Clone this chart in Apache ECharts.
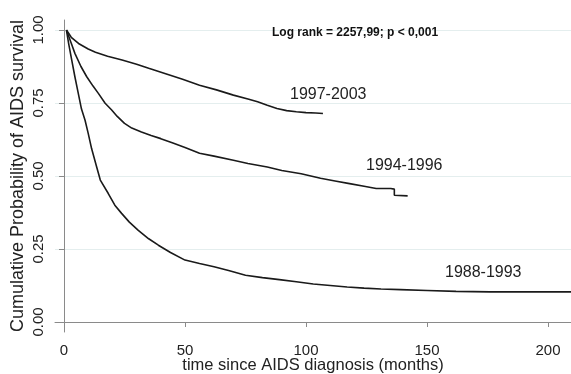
<!DOCTYPE html>
<html>
<head>
<meta charset="utf-8">
<script src="https://cdn.jsdelivr.net/npm/echarts@6/dist/echarts.min.js"></script>
<style>html,body{margin:0;padding:0;background:#fff}#c{width:571px;height:374px}</style>
</head>
<body>
<div id="c"></div>
<script>
// ---- data ----
const xTicks = [0, 50, 100, 150, 200];
const yTicks = [0, 0.25, 0.5, 0.75, 1];

const t9703 = [1, 3, 6, 10, 13, 18, 24, 30, 35, 42, 49, 56, 63, 70, 76, 80, 84, 88, 92, 96, 100, 104, 107];
const s9703 = [1.0, 0.975, 0.954, 0.935, 0.924, 0.910, 0.897, 0.883, 0.869, 0.850, 0.831, 0.811, 0.795, 0.777, 0.764, 0.754, 0.742, 0.731, 0.724, 0.720, 0.717, 0.716, 0.714];

const t9496 = [1, 3, 4.5, 7, 9.4, 12, 14.2, 17, 19.7, 22, 25, 28, 32, 36, 40, 45, 50, 56, 62, 70, 76, 84, 90, 98, 106, 112, 118, 124, 129, 131, 135, 136.5, 136.5, 142];
const s9496 = [1.0, 0.955, 0.92, 0.875, 0.840, 0.808, 0.783, 0.749, 0.726, 0.704, 0.680, 0.664, 0.651, 0.639, 0.628, 0.613, 0.598, 0.578, 0.568, 0.554, 0.543, 0.531, 0.519, 0.508, 0.492, 0.483, 0.474, 0.465, 0.457, 0.457, 0.457, 0.455, 0.434, 0.432];

const t8893 = [1, 2, 3.2, 4.5, 5.9, 7.2, 8.7, 10, 11.4, 13.5, 15, 18.3, 21, 23.8, 27, 30.7, 35, 39, 44, 50, 56, 62, 68, 75, 82, 89, 96, 103, 110, 117, 124, 131, 139, 150, 162, 176, 190, 210];
const s8893 = [1.0, 0.95, 0.897, 0.84, 0.783, 0.73, 0.691, 0.646, 0.594, 0.531, 0.486, 0.440, 0.400, 0.372, 0.342, 0.314, 0.285, 0.263, 0.238, 0.212, 0.200, 0.189, 0.176, 0.160, 0.152, 0.145, 0.138, 0.130, 0.125, 0.120, 0.116, 0.113, 0.111, 0.108, 0.105, 0.103, 0.103, 0.103];

const seriesNames = ['1997-2003', '1994-1996', '1988-1993'];
const statText = 'Log rank = 2257,99; p < 0,001';
const xTitle = 'time since AIDS diagnosis (months)';
const yTitle = 'Cumulative Probability of AIDS survival';

// ---- chart ----
const zip = (t, s) => t.map((v, i) => [v, s[i]]);
const lineStyle = { color: '#1a1a1a', width: 1.6 };
const FONT = '"Liberation Sans", Arial, sans-serif';

const chart = echarts.init(document.getElementById('c'), null, { renderer: 'canvas' });
chart.setOption({
  animation: false,
  backgroundColor: '#ffffff',
  grid: { left: 55, right: 0, top: 20, bottom: 42, containLabel: false, outerBoundsMode: 'none' },
  xAxis: {
    type: 'value', min: -3.72, max: 209.5,
    name: xTitle, nameLocation: 'middle', nameGap: 25, nameMoveOverlap: false,
    nameTextStyle: { fontFamily: FONT, fontSize: 16.5, color: '#222' },
    axisLine: { show: true, lineStyle: { color: '#8a8a8a', width: 1 } },
    axisTick: { show: true, length: 5, customValues: xTicks, lineStyle: { color: '#8a8a8a' } },
    axisLabel: { customValues: xTicks, margin: 11, fontFamily: FONT, fontSize: 15, color: '#222' },
    splitLine: { show: false }
  },
  yAxis: {
    type: 'value', min: -0.0343, max: 1.0343,
    name: yTitle, nameLocation: 'middle', nameGap: 28, nameMoveOverlap: false,
    nameTextStyle: { fontFamily: FONT, fontSize: 18, color: '#222' },
    axisLine: { show: true, lineStyle: { color: '#8a8a8a', width: 1 } },
    axisTick: { show: true, length: 5, customValues: yTicks, lineStyle: { color: '#8a8a8a' } },
    axisLabel: { customValues: yTicks, rotate: 90, margin: 9, fontFamily: FONT, fontSize: 15, color: '#222',
                 formatter: v => v.toFixed(2) },
    splitLine: { show: true, lineStyle: { color: '#e4eeee', width: 1 } }
  },
  series: [
    { name: seriesNames[0], type: 'line', data: zip(t9703, s9703), showSymbol: false, lineStyle },
    { name: seriesNames[1], type: 'line', data: zip(t9496, s9496), showSymbol: false, lineStyle },
    { name: seriesNames[2], type: 'line', data: zip(t8893, s8893), showSymbol: false, lineStyle }
  ],
  graphic: [
    { type: 'text', left: 272, top: 27, z: 100, style: { text: statText, font: 'bold 12px ' + FONT, fill: '#111' } },
    { type: 'text', left: 290, top: 87, style: { text: seriesNames[0], font: '16px ' + FONT, fill: '#222' } },
    { type: 'text', left: 366, top: 158, style: { text: seriesNames[1], font: '16px ' + FONT, fill: '#222' } },
    { type: 'text', left: 445, top: 265, style: { text: seriesNames[2], font: '16px ' + FONT, fill: '#222' } }
  ]
});
</script>
</body>
</html>
